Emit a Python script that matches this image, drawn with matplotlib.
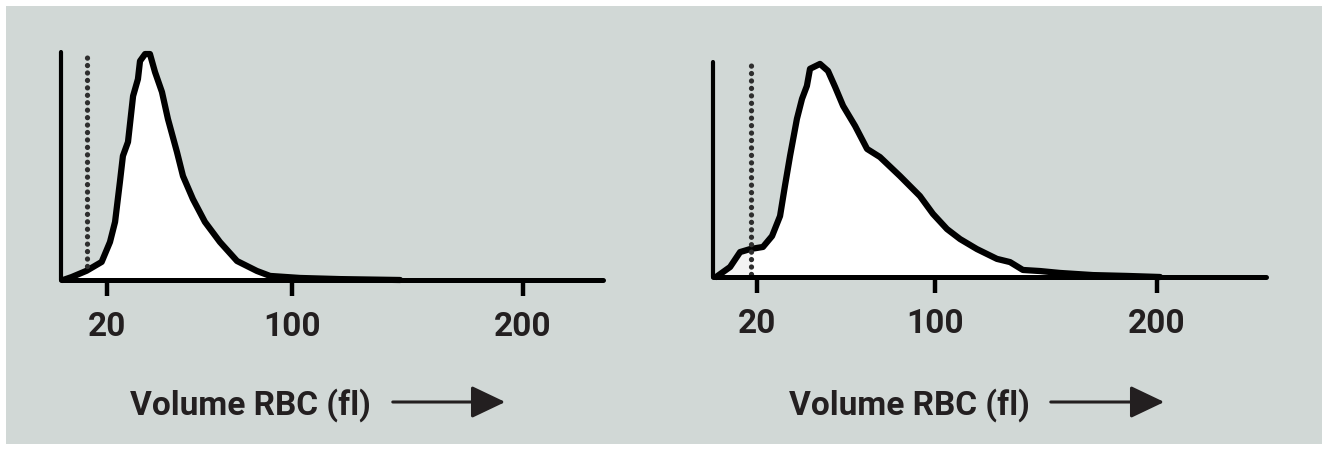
import numpy as np
import matplotlib.pyplot as plt
from matplotlib.patches import Rectangle, FancyArrowPatch

# histogram outlines (volume in fl, relative count)
normal_vol = [0.9, 4.6, 11.1, 17.6, 21.2, 23.4, 25.5, 26.8, 29.0, 31.2, 33.3, 34.2,
              36.4, 38.5, 40.7, 43.7, 46.3, 50.2, 52.8, 57.1, 62.3, 68.8, 76.2,
              84.8, 90.5, 103.5, 120.8, 146.8]
normal_cnt = [0, 1.3, 4.1, 8.0, 16.8, 25.7, 43.4, 54.9, 61.1, 81.4, 88.9, 96.9,
              100, 100, 92, 83.2, 71.2, 56.6, 46, 35.8, 25.7, 16.8, 8.4,
              4.0, 1.8, 0.9, 0.4, 0]

wide_vol = [1.4, 7.7, 12.2, 16.7, 22.5, 26.6, 30.2, 32.4, 34.7, 37.8, 40.1, 42.3,
            43.7, 48.2, 51.8, 55.0, 58.6, 64.0, 69.4, 75.2, 84.2, 93.2, 99.1,
            105.4, 111.3, 118.9, 127.9, 133.8, 139.6, 147.3, 156.3, 171.2,
            186.5, 201.4]
wide_cnt = [0, 4.7, 11.7, 13.1, 14.1, 19.2, 28.6, 42.7, 56.8, 74.2, 83.6, 89.7,
            97.7, 100, 96.7, 89.2, 80.3, 70.9, 60.1, 56.3, 47.4, 38, 29.6,
            22.5, 17.8, 13.1, 8.5, 7.0, 3.3, 2.8, 1.9, 0.9,
            0.5, 0]

# threshold (dotted line) for each panel
normal_thresh = 11.3
wide_thresh = 17.1

tick_vals = [20, 100, 200]
xlabel = "Volume RBC (fl)"

ink = "#231f20"
bg = "#d1d8d6"
W, H = 1328, 452

plt.rcParams['font.family'] = ['Roboto', 'DejaVu Sans']

fig = plt.figure(figsize=(W / 100, H / 100), dpi=100, facecolor="white")
fig.patches.append(Rectangle((6 / W, 7 / H), (W - 12) / W, (H - 14) / H,
                             transform=fig.transFigure, facecolor=bg,
                             edgecolor="none", zorder=-10))


def px_box(x0, x1, y_top, y_base):
    return [x0 / W, (H - y_base) / H, (x1 - x0) / W, (y_base - y_top) / H]


def panel(box, xmax, vol, cnt, thresh, shade_left=False):
    ax = fig.add_axes(box)
    ax.set_facecolor("none")
    ax.set_xlim(0, xmax)
    ax.set_ylim(0, 100.9)
    vol = np.array(vol)
    cnt = np.array(cnt)
    ax.fill_between(vol, cnt, 0, color="white", lw=0, zorder=1)
    if shade_left:
        m = vol <= thresh
        xs = np.append(vol[m], thresh)
        ys = np.append(cnt[m], np.interp(thresh, vol, cnt))
        ax.fill_between(xs, ys, 0, color="#f3f3f3", lw=0, zorder=1.5)
    ax.plot(vol, cnt, color="black", lw=4.5, solid_joinstyle="round",
            solid_capstyle="round", zorder=3, clip_on=False)
    bottom = 1.5 if shade_left else 6
    ax.plot([thresh, thresh], [bottom, 100.9], color="#2e2e2e",
            lw=3.8, linestyle=(0, (0.01, 1.4)), dash_capstyle="round", zorder=4,
            clip_on=False)
    for side in ["top", "right"]:
        ax.spines[side].set_visible(False)
    ax.spines["bottom"].set_linewidth(3.6)
    ax.spines["left"].set_linewidth(3.0)
    for side in ["bottom", "left"]:
        ax.spines[side].set_capstyle("round")
        ax.spines[side].set_color("black")
        ax.spines[side].set_zorder(5)
    ax.set_yticks([])
    ax.set_xticks(tick_vals)
    ax.set_xticklabels([str(v) for v in tick_vals])
    ax.tick_params(axis="x", direction="out", length=11.5, width=3.2, color="black",
                   pad=10, labelsize=24, labelcolor=ink)
    for lab in ax.get_xticklabels():
        lab.set_fontweight("bold")
    return ax


ax1 = panel(px_box(61, 603, 53, 281), 234.6, normal_vol, normal_cnt, normal_thresh)
ax2 = panel(px_box(713, 1266, 63, 278), 249.1, wide_vol, wide_cnt, wide_thresh,
            shade_left=True)

# axis titles with arrows
for tx, a0, a1 in [(130, 390, 508), (789, 1048, 1167)]:
    fig.text(tx / W, (H - 415) / H, xlabel, fontsize=24, fontweight="bold",
             color=ink, ha="left", va="baseline")
    arr = FancyArrowPatch((a0 / W, (H - 403) / H), (a1 / W, (H - 403) / H),
                          transform=fig.transFigure,
                          arrowstyle="-|>,head_length=2.1,head_width=1.0",
                          mutation_scale=10, lw=2.2, color=ink)
    fig.patches.append(arr)

fig.savefig("out.png", dpi=100, facecolor="white")
